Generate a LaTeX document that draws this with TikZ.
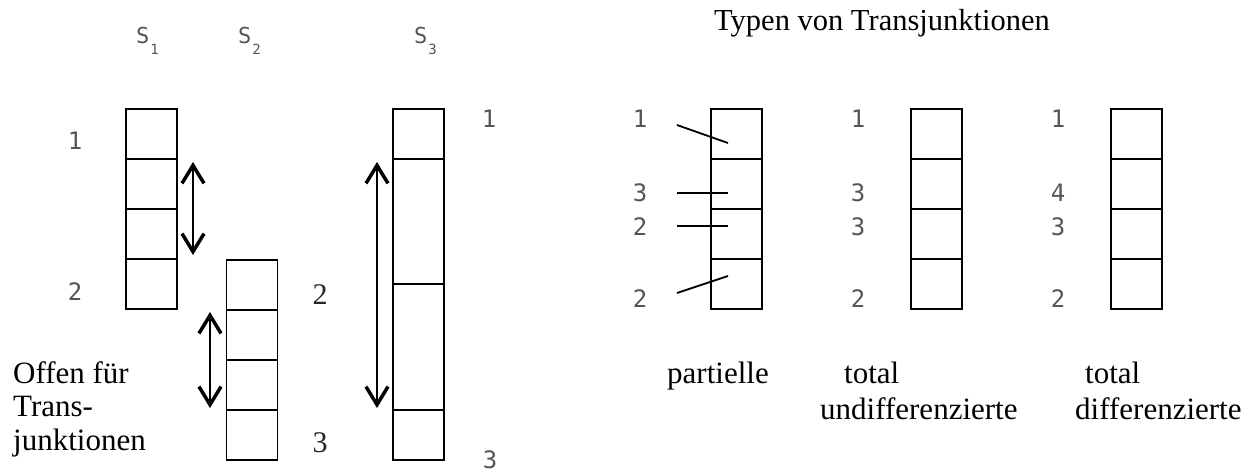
\documentclass[tikz,border=0pt]{standalone}
\usepackage{fontspec}
\setmainfont{Liberation Serif}
\newfontfamily\numfont{DejaVu Sans Mono}
\usetikzlibrary{arrows.meta}
\definecolor{numgray}{RGB}{85,85,85}
\begin{document}
\begin{tikzpicture}[x=1pt,y=-1pt,
 cell/.style={draw, line width=1.8pt, minimum width=51pt, inner sep=0pt, outer sep=0pt},
 num/.style={font=\numfont\fontsize{24}{24}\selectfont, text=numgray, inner sep=0pt},
 snum/.style={font=\fontsize{30}{30}\selectfont, text=black!85, inner sep=0pt},
 slbl/.style={font=\numfont\fontsize{22}{22}\selectfont, text=numgray, inner sep=0pt, anchor=base west},
 lbl/.style={font=\fontsize{31}{34}\selectfont, inner sep=0pt, anchor=base west},
 dbl/.style={line width=1.5pt, {Straight Barb[length=18pt,width=22pt,line width=3.5pt]}-{Straight Barb[length=18pt,width=22pt,line width=3.5pt]}},
 tick/.style={line width=1.8pt}]
\useasboundingbox (0,0) rectangle (1254,472);

% S1
\foreach \i/\y in {1/134,2/184,3/234,4/284}
  \node[cell, minimum height=50pt] (s1c\i) at (151.5,\y) {};
% S2
\foreach \i/\y in {1/285,2/335,3/385,4/435}
  \node[cell, minimum height=50pt] (s2c\i) at (252,\y) {};
% S3
\node[cell, minimum height=50pt]  (s3c1) at (418.5,134) {};
\node[cell, minimum height=125pt] (s3c2) at (418.5,221.5) {};
\node[cell, minimum height=126pt] (s3c3) at (418.5,347) {};
\node[cell, minimum height=50pt]  (s3c4) at (418.5,435) {};
% right columns
\foreach \c/\x in {p/736.5,u/936.5,d/1136.5}
  \foreach \i/\y in {1/134,2/184,3/234,4/284}
    \node[cell, minimum height=50pt] (\c c\i) at (\x,\y) {};

% labels S
\node[slbl] (S1) at (136,43) {S\hspace{1pt}\raisebox{-11pt}{\fontsize{14}{14}\selectfont 1}};
\node[slbl] (S2) at (238,43) {S\hspace{1pt}\raisebox{-11pt}{\fontsize{14}{14}\selectfont 2}};
\node[slbl] (S3) at (414,43) {S\hspace{1pt}\raisebox{-11pt}{\fontsize{14}{14}\selectfont 3}};

% arrows
\coordinate (a1t) at (193,162); \coordinate (a1b) at (193,255);
\coordinate (a2t) at (210,312); \coordinate (a2b) at (210,408);
\coordinate (a3t) at (377,162); \coordinate (a3b) at (377,408);
\draw[dbl] (a1t) -- (a1b);
\draw[dbl] (a2t) -- (a2b);
\draw[dbl] (a3t) -- (a3b);

% numbers left part
\node[num] (n11) at (75,141) {1};
\node[num] (n12) at (75,292) {2};
\node[num] (n31) at (489,119) {1};
\node[num] (n33) at (490,460) {3};
\node[snum] (n22) at (320,295) {2};
\node[snum] (n23) at (320,443) {3};

% text left
\node[lbl] (off1) at (13,383) {Offen für};
\node[lbl] (off2) at (13,416) {Trans-};
\node[lbl] (off3) at (13,450) {junktionen};

% title
\node[lbl, font=\fontsize{30.5}{34}\selectfont] (title) at (714,30) {Typen von Transjunktionen};

% numbers right part
\foreach \c/\x/\a/\b/\cc/\d in {p/640/1/3/2/2, u/858/1/3/3/2, d/1058/1/4/3/2}{
  \node[num] (\c n1) at (\x,119) {\a};
  \node[num] (\c n2) at (\x,193) {\b};
  \node[num] (\c n3) at (\x,227) {\cc};
  \node[num] (\c n4) at (\x,299) {\d};
}

% partielle ticks
\coordinate (t1s) at (677,125); \coordinate (t1e) at (728,143);
\coordinate (t2s) at (677,193); \coordinate (t2e) at (728,193);
\coordinate (t3s) at (677,226); \coordinate (t3e) at (728,226);
\coordinate (t4s) at (677,293); \coordinate (t4e) at (728,276);
\draw[tick] (t1s) -- (t1e);
\draw[tick] (t2s) -- (t2e);
\draw[tick] (t3s) -- (t3e);
\draw[tick] (t4s) -- (t4e);

% bottom labels
\node[lbl] (lp)  at (667,383) {partielle};
\node[lbl] (lu1) at (844,383) {total};
\node[lbl] (lu2) at (820,419) {undifferenzierte};
\node[lbl] (ld1) at (1085,383) {total};
\node[lbl] (ld2) at (1075,419) {differenzierte};
\end{tikzpicture}
\end{document}
